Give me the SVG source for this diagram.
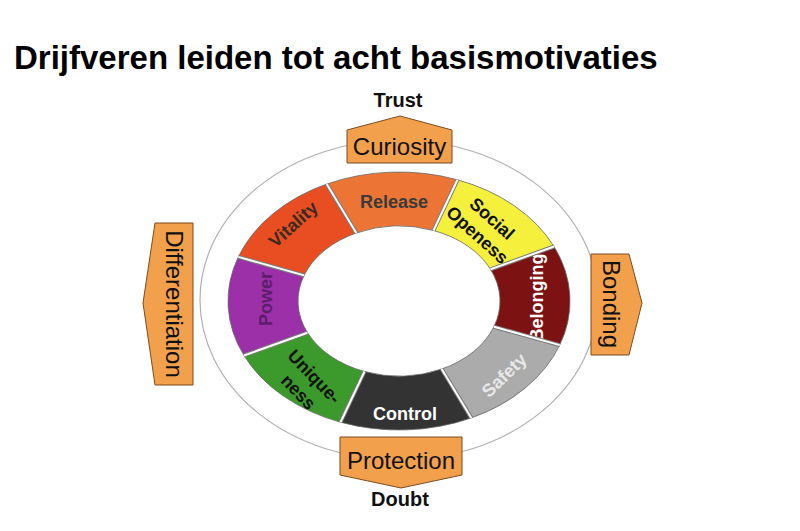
<svg xmlns="http://www.w3.org/2000/svg" width="800" height="531" viewBox="0 0 800 531">
<style>
  text { font-family: "Liberation Sans", Arial, sans-serif; }
  .title { font-size: 33px; font-weight: bold; fill: #000; }
  .pole { font-size: 20px; font-weight: bold; fill: #111; text-anchor: middle; }
  .box { fill: #F2A04C; stroke: #7a4b22; stroke-width: 1; }
  .boxlbl { font-size: 24px; fill: #111; text-anchor: middle; }
  .seg { stroke: #666; stroke-width: 0.8; }
  .seglbl { font-size: 18px; font-weight: bold; text-anchor: middle; }
  .gapdark { stroke: #7a7a7a; stroke-width: 4; fill: none; }
  .gaplight { stroke: #fff; stroke-width: 2; fill: none; }
</style>
<rect width="800" height="531" fill="#fff"/>
<text class="title" x="14" y="69">Drijfveren leiden tot acht basismotivaties</text>

<ellipse id="outer-ring" cx="399" cy="300" rx="199" ry="160" fill="none" stroke="#b0b0b0" stroke-width="1.2"/>

<g id="connectors"></g>

<g id="ring">
  <g id="belonging">
    <path class="seg" fill="#7D1212" d="M554,246.5 A171,129 0 0 1 559.7,345.1 L493.9,326.7 A101,75 0 0 0 490.5,269.3 Z"/>
    <text class="seglbl" fill="#fff" transform="translate(536,297.5) rotate(-90)" x="0" y="6.5">Belonging</text>
  </g>
  <g id="safety">
    <path class="seg" fill="#ABABAB" d="M559.7,345.1 A171,129 0 0 1 471.3,417.9 L441.7,369 A101,75 0 0 0 493.9,326.7 Z"/>
    <text class="seglbl" fill="#e8e8e8" transform="translate(504,375) rotate(-44)" x="0" y="6.5">Safety</text>
  </g>
  <g id="control">
    <path class="seg" fill="#333333" d="M471.3,417.9 A171,129 0 0 1 340.5,422.2 L364.5,371.5 A101,75 0 0 0 441.7,369 Z"/>
    <text class="seglbl" fill="#fff" x="405" y="420">Control</text>
  </g>
  <g id="uniqueness">
    <path class="seg" fill="#3B9A2B" d="M340.5,422.2 A171,129 0 0 1 244,355.5 L307.5,332.7 A101,75 0 0 0 364.5,371.5 Z"/>
    <text class="seglbl" fill="#111" transform="translate(306.5,384) rotate(46)"><tspan x="0" y="-4.5">Unique-</tspan><tspan x="0" y="17.5">ness</tspan></text>
  </g>
  <g id="power">
    <path class="seg" fill="#9B30A8" d="M244,355.5 A171,129 0 0 1 238.3,256.9 L304.1,275.4 A101,75 0 0 0 307.5,332.7 Z"/>
    <text class="seglbl" fill="#5c1e68" transform="translate(265,299) rotate(-90)" x="0" y="6.5">Power</text>
  </g>
  <g id="vitality">
    <path class="seg" fill="#E84E22" d="M238.3,256.9 A171,129 0 0 1 326.7,184.1 L356.3,233 A101,75 0 0 0 304.1,275.4 Z"/>
    <text class="seglbl" fill="#3a2a20" transform="translate(293,224) rotate(-42)" x="0" y="6.5">Vitality</text>
  </g>
  <g id="release">
    <path class="seg" fill="#EC7434" d="M326.7,184.1 A171,129 0 0 1 457.5,179.8 L433.5,230.5 A101,75 0 0 0 356.3,233 Z"/>
    <text class="seglbl" fill="#3a3a3a" x="394" y="207.5">Release</text>
  </g>
  <g id="social-openess">
    <path class="seg" fill="#F5F03C" d="M457.5,179.8 A171,129 0 0 1 554,246.5 L490.5,269.3 A101,75 0 0 0 433.5,230.5 Z"/>
    <text class="seglbl" fill="#111" transform="translate(485,226.5) rotate(42)"><tspan x="0" y="-4.5">Social</tspan><tspan x="0" y="17.5">Openess</tspan></text>
  </g>
  <g id="separators">
    <path class="gapdark" d="M554,246.5 L490.5,269.3 M559.7,345.1 L493.9,326.7 M471.3,417.9 L441.7,369 M340.5,422.2 L364.5,371.5 M244,355.5 L307.5,332.7 M238.3,256.9 L304.1,275.4 M326.7,184.1 L356.3,233 M457.5,179.8 L433.5,230.5"/>
    <path class="gaplight" d="M554,246.5 L490.5,269.3 M559.7,345.1 L493.9,326.7 M471.3,417.9 L441.7,369 M340.5,422.2 L364.5,371.5 M244,355.5 L307.5,332.7 M238.3,256.9 L304.1,275.4 M326.7,184.1 L356.3,233 M457.5,179.8 L433.5,230.5"/>
  </g>
</g>

<g id="trust"><text class="pole" x="398" y="107">Trust</text></g>
<g id="doubt"><text class="pole" x="400" y="506">Doubt</text></g>

<g id="curiosity">
  <polygon class="box" points="347,130 400,116 452,130 452,163 347,163"/>
  <text class="boxlbl" x="399.5" y="155">Curiosity</text>
</g>
<g id="protection">
  <polygon class="box" points="340,437 462,437 462,475 401,488 340,475"/>
  <text class="boxlbl" x="401" y="469">Protection</text>
</g>
<g id="differentiation">
  <polygon class="box" points="155,223 193,223 193,385 155,385 143,303"/>
  <text class="boxlbl" transform="translate(174,304) rotate(90)" x="0" y="8.5">Differentiation</text>
</g>
<g id="bonding">
  <polygon class="box" points="591,254 629,254 642,303 629,355 591,355"/>
  <text class="boxlbl" transform="translate(611,304) rotate(90)" x="0" y="8.5">Bonding</text>
</g>
</svg>
